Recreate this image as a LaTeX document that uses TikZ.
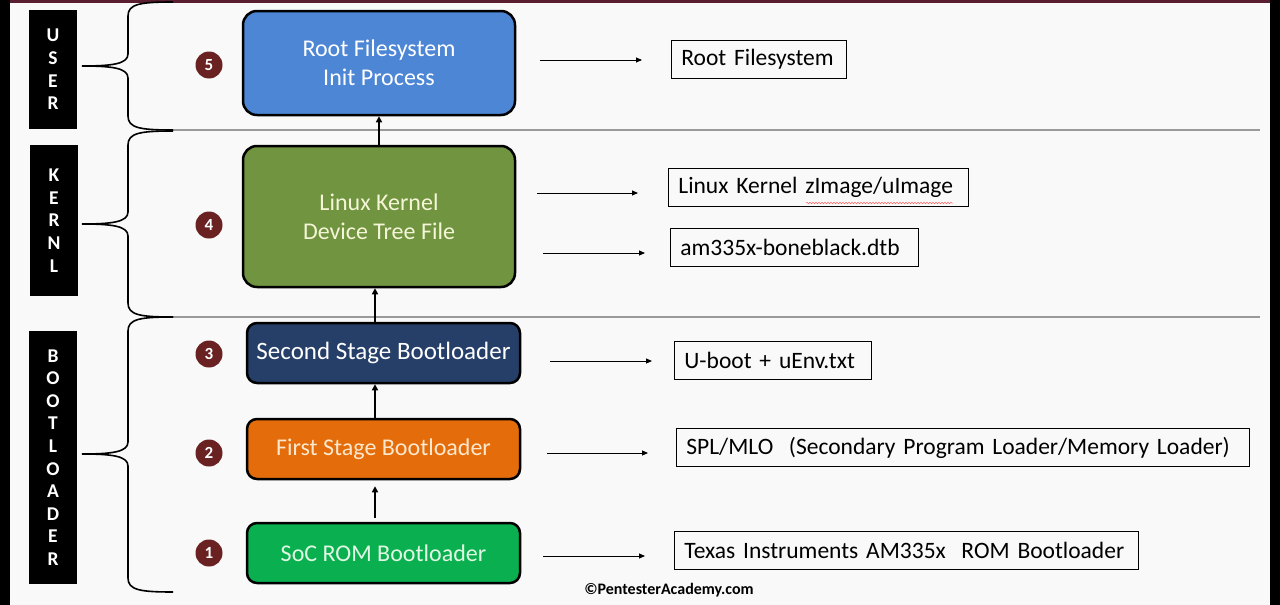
\documentclass[tikz,border=0pt]{standalone}
\usepackage{fontspec}
\setmainfont{Carlito}
\usetikzlibrary{arrows.meta,decorations.pathmorphing}
\definecolor{bgc}{HTML}{F9F9F9}
\definecolor{cblue}{HTML}{4C86D5}
\definecolor{colive}{HTML}{70943F}
\definecolor{cnavy}{HTML}{263F69}
\definecolor{corange}{HTML}{E46C0A}
\definecolor{cgreen}{HTML}{0AB04F}
\definecolor{cnum}{HTML}{6A2121}
\definecolor{cmaroon}{HTML}{5A1E30}
\definecolor{csep}{HTML}{9A9A9A}
\begin{document}
\begin{tikzpicture}[x=1pt,y=-1pt,
  stagebox/.style={draw=black, line width=2.5pt, rounded corners=14pt, minimum width=272pt,
    align=center, font=\fontsize{24}{29}\selectfont},
  smallstage/.style={stagebox, rounded corners=10pt, minimum width=273pt, minimum height=60pt},
  outbox/.style={draw=black, line width=0.8pt, anchor=west, inner xsep=10pt, inner ysep=0pt,
    minimum height=38pt, align=left, font=\fontsize{23.5}{26}\selectfont},
  labbox/.style={fill=black, text=white, minimum width=48pt, align=center, inner sep=0pt,
    font=\fontsize{19.5}{22.6}\selectfont\bfseries},
  numc/.style={circle, fill=cnum, text=white, minimum size=27pt, inner sep=0pt,
    font=\fontsize{17}{17}\selectfont\bfseries},
  uparrow/.style={line width=2pt, -{Triangle[length=6pt,width=6pt]}},
  rarrow/.style={line width=0.9pt, -{Triangle[length=6pt,width=5pt]}},
  brace/.style={line width=1.6pt, black},
  sepline/.style={line width=1.6pt, csep}
]
\useasboundingbox (0,0) rectangle (1280,605);
\fill[bgc] (0,0) rectangle (1280,605);
\fill[black] (0,0) rectangle (10,605);
\fill[black] (1270,0) rectangle (1280,605);
\fill[cmaroon] (10,0) rectangle (1270,2.5);

% separators
\draw[sepline] (173,130) -- (1260,130);
\draw[sepline] (173,317) -- (1260,317);

% braces
\draw[brace] (173,2) .. controls (140,2) and (128,4) .. (128,16) -- (128,54)
  .. controls (128,64) and (112,66) .. (82,66) .. controls (112,66) and (128,68) .. (128,78)
  -- (128,116) .. controls (128,128) and (140,130) .. (173,130);
\draw[brace] (173,131) .. controls (140,131) and (128,133) .. (128,145) -- (128,212)
  .. controls (128,222) and (112,224) .. (82,224) .. controls (112,224) and (128,226) .. (128,236)
  -- (128,303) .. controls (128,315) and (140,317) .. (173,317);
\draw[brace] (173,317) .. controls (140,317) and (128,319) .. (128,331) -- (128,442)
  .. controls (128,452) and (112,454) .. (82,454) .. controls (112,454) and (128,456) .. (128,466)
  -- (128,578) .. controls (128,590) and (140,592) .. (173,592);

% side labels
\node[labbox, minimum height=119pt] (luser) at (53,69.5) {U\\S\\E\\R};
\node[labbox, minimum height=151pt] (lkern) at (54,220.5) {K\\E\\R\\N\\L};
\node[labbox, minimum height=253pt] (lboot) at (53,457.5) {B\\O\\O\\T\\L\\O\\A\\D\\E\\R};

% number circles
\node[numc] (n5) at (209,65) {5};
\node[numc] (n4) at (209,225) {4};
\node[numc] (n3) at (209,354) {3};
\node[numc] (n2) at (209,453) {2};
\node[numc] (n1) at (209,553) {1};

% stage boxes
\node[stagebox, fill=cblue, text=white, minimum height=104pt] (rfs) at (379,63)
  {Root Filesystem\\Init Process};
\node[stagebox, fill=colive, text={rgb,255:red,245;green,245;blue,215}, minimum height=141pt] (lk) at (379,216.5)
  {Linux Kernel\\Device Tree File};
\node[smallstage, fill=cnavy, text=white, font=\fontsize{25}{29}\selectfont] (ssb) at (383.5,353) {Second Stage Bootloader};
\node[smallstage, fill=corange, text={rgb,255:red,252;green,232;blue,205}] (fsb) at (383.5,449) {First Stage Bootloader};
\node[smallstage, fill=cgreen, text={rgb,255:red,225;green,248;blue,228}] (soc) at (383.5,553) {SoC ROM Bootloader};

% up arrows
\draw[uparrow] ([xshift=0pt]lk.north) -- (rfs.south);
\draw[uparrow] ([xshift=-8.5pt]ssb.north) -- ([xshift=-4pt]lk.south);
\draw[uparrow] ([xshift=-8.5pt]fsb.north) -- ([xshift=-8.5pt]ssb.south);
\draw[uparrow, shorten <=4pt, shorten >=6pt] ([xshift=-8.5pt]soc.north) -- ([xshift=-8.5pt]fsb.south);

% output boxes
\node[outbox, text width=155pt] (o5) at (671,59) {\mbox{Root Filesystem}};
\node[outbox, text width=280pt] (o4a) at (668,187.5) {\mbox{Linux Kernel zImage/uImage}};
\node[outbox, text width=228pt] (o4b) at (670,247.5) {\mbox{am335x-boneblack.dtb}};
\node[outbox, text width=177pt] (o3) at (674,360.5) {\mbox{U-boot + uEnv.txt}};
\node[outbox, text width=553pt] (o2) at (676,447.5) {\mbox{SPL/MLO\ \ (Secondary Program Loader/Memory Loader)}};
\node[outbox, text width=444pt] (o1) at (674,550.5) {\mbox{Texas Instruments AM335x\ \ ROM Bootloader}};

% spell-check squiggle
\draw[red!60, line width=0.5pt, decorate, decoration={snake, amplitude=0.7pt, segment length=3pt}]
  (806,203) -- (953,203);

% right arrows
\coordinate (a5s) at (540,60);  \coordinate (a5e) at (642,60);
\coordinate (a4s) at (537,193); \coordinate (a4e) at (638,193);
\coordinate (a4bs) at (543,253); \coordinate (a4be) at (645,253);
\coordinate (a3s) at (550,361); \coordinate (a3e) at (652,361);
\coordinate (a2s) at (547,453); \coordinate (a2e) at (648,453);
\coordinate (a1s) at (543,556); \coordinate (a1e) at (645,556);
\draw[rarrow] (a5s) -- (a5e);
\draw[rarrow] (a4s) -- (a4e);
\draw[rarrow] (a4bs) -- (a4be);
\draw[rarrow] (a3s) -- (a3e);
\draw[rarrow] (a2s) -- (a2e);
\draw[rarrow] (a1s) -- (a1e);

% copyright
\node[font=\fontsize{16}{16}\selectfont\bfseries] (copy) at (669,590) {©PentesterAcademy.com};
\end{tikzpicture}
\end{document}
